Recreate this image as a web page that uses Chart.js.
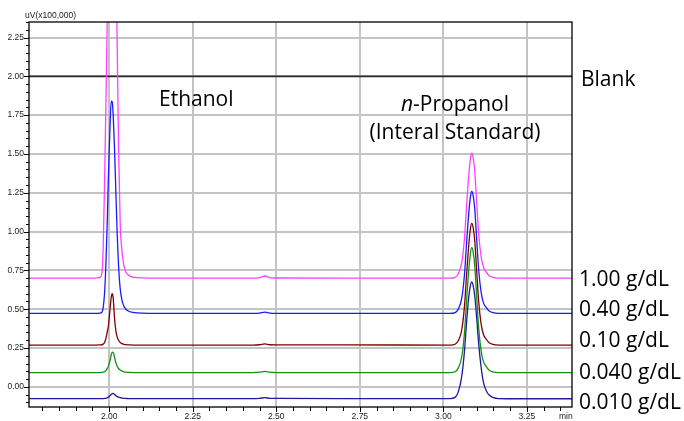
<!DOCTYPE html>
<html>
<head>
<meta charset="utf-8">
<script src="https://cdn.jsdelivr.net/npm/chart.js@4.4.1/dist/chart.umd.min.js"></script>
<style>
  body { margin: 0; background: #fff; }
  #wrap { width: 684px; height: 421px; position: relative; }
</style>
</head>
<body>
<div id="wrap"><canvas id="chart_gc"></canvas></div>
<script>
// 保持時間 (min)
const times = [
  1.76, 1.96, 1.972, 1.978, 1.982, 1.986, 1.990, 1.994, 1.998, 2.002,
  2.006, 2.009, 2.012, 2.016, 2.020, 2.024, 2.028, 2.033, 2.038, 2.044,
  2.050, 2.060, 2.075, 2.10, 2.20, 2.43, 2.45, 2.466, 2.48, 2.50,
  2.70, 3.02, 3.035, 3.045, 3.055, 3.063, 3.070, 3.076, 3.081, 3.085,
  3.089, 3.094, 3.100, 3.106, 3.113, 3.120, 3.128, 3.137, 3.148, 3.165,
  3.20, 3.385
];

// 各濃度の信号 (uV x100,000)
const conc100 = [
  0.70, 0.70, 0.705, 0.73, 0.90, 1.30, 1.80, 2.35, 2.95, 3.5,
  3.85, 3.95, 3.85, 3.4, 2.8, 2.2, 1.55, 1.05, 0.88, 0.78,
  0.74, 0.715, 0.705, 0.702, 0.70, 0.70, 0.704, 0.714, 0.704, 0.701,
  0.70, 0.70, 0.705, 0.73, 0.80, 0.95, 1.18, 1.36, 1.47, 1.505,
  1.48, 1.39, 1.18, 0.98, 0.84, 0.77, 0.74, 0.715, 0.705, 0.70,
  0.70, 0.70
];
const conc040 = [
  0.473, 0.473, 0.475, 0.48, 0.51, 0.60, 0.78, 1.05, 1.38, 1.65,
  1.84, 1.835, 1.75, 1.53, 1.25, 0.98, 0.78, 0.63, 0.56, 0.52,
  0.50, 0.485, 0.478, 0.475, 0.473, 0.473, 0.475, 0.481, 0.475, 0.473,
  0.473, 0.473, 0.478, 0.502, 0.57, 0.717, 0.941, 1.117, 1.224, 1.258,
  1.234, 1.146, 0.941, 0.746, 0.610, 0.541, 0.512, 0.488, 0.478, 0.473,
  0.473, 0.473
];
const conc010 = [
  0.269, 0.269, 0.27, 0.271, 0.275, 0.285, 0.31, 0.35, 0.40, 0.49,
  0.575, 0.60, 0.57, 0.44, 0.36, 0.32, 0.30, 0.285, 0.278, 0.274,
  0.272, 0.27, 0.269, 0.269, 0.269, 0.269, 0.271, 0.276, 0.271, 0.27,
  0.27, 0.269, 0.274, 0.298, 0.366, 0.513, 0.736, 0.912, 1.019, 1.053,
  1.029, 0.941, 0.736, 0.542, 0.405, 0.337, 0.308, 0.284, 0.274, 0.269,
  0.269, 0.269
];
const conc0040 = [
  0.092, 0.092, 0.092, 0.093, 0.094, 0.097, 0.104, 0.117, 0.135, 0.165,
  0.205, 0.224, 0.222, 0.19, 0.155, 0.133, 0.118, 0.108, 0.101, 0.097,
  0.095, 0.093, 0.092, 0.092, 0.092, 0.092, 0.094, 0.099, 0.094, 0.092,
  0.092, 0.092, 0.097, 0.122, 0.192, 0.342, 0.571, 0.751, 0.861, 0.896,
  0.871, 0.781, 0.571, 0.372, 0.232, 0.162, 0.132, 0.107, 0.097, 0.092,
  0.092, 0.092
];
const conc0010 = [
  -0.076, -0.076, -0.076, -0.076, -0.076, -0.075, -0.074, -0.071, -0.066, -0.058,
  -0.049, -0.044, -0.043, -0.049, -0.057, -0.063, -0.067, -0.07, -0.072, -0.074,
  -0.075, -0.076, -0.076, -0.076, -0.076, -0.076, -0.074, -0.070, -0.074, -0.075,
  -0.076, -0.076, -0.068, -0.031, 0.067, 0.225, 0.428, 0.578, 0.653, 0.676,
  0.653, 0.586, 0.435, 0.27, 0.127, 0.029, -0.023, -0.053, -0.068, -0.076,
  -0.077, -0.077
];
// ブランク
const blankTimes = [1.76, 3.385];
const blank = [2.00, 2.00];

const seriesLabels = ['0.010 g/dL', '0.040 g/dL', '0.10 g/dL', '0.40 g/dL', '1.00 g/dL', 'Blank'];
const seriesColors = ['#1c1c9c', '#129212', '#800000', '#1a1aff', '#ff40ff', '#2a2a2a'];
const xRange = [1.76, 3.385];
const yRange = [-0.13, 2.35];

function toPoints(xs, ys) {
  return xs.map((t, i) => ({ x: t, y: ys[i] }));
}
function isMajor(v) {
  return Math.abs(v / 0.25 - Math.round(v / 0.25)) < 1e-6;
}

const seriesData = [conc0010, conc0040, conc010, conc040, conc100];
const datasets = seriesData.map((d, i) => ({
  label: seriesLabels[i],
  data: toPoints(times, d),
  borderColor: seriesColors[i],
  borderWidth: 1.3,
  pointRadius: 0,
  cubicInterpolationMode: 'monotone'
}));
datasets.push({
  label: seriesLabels[5],
  data: toPoints(blankTimes, blank),
  borderColor: seriesColors[5],
  borderWidth: 1.6,
  pointRadius: 0
});

// 目盛・枠・注記
const decor = {
  id: 'decor',
  afterDatasetsDraw(chart) {
    const { ctx, chartArea: a, scales: { x, y } } = chart;
    ctx.save();
    ctx.strokeStyle = '#000';
    ctx.lineWidth = 1;
    ctx.beginPath();
    y.ticks.forEach(t => {
      const py = Math.round(y.getPixelForValue(t.value)) + 0.5;
      const len = isMajor(t.value) ? 5 : 3;
      ctx.moveTo(a.left - len, py);
      ctx.lineTo(a.left, py);
    });
    x.ticks.forEach(t => {
      const px = Math.round(x.getPixelForValue(t.value)) + 0.5;
      const len = isMajor(t.value) ? 5 : 4;
      ctx.moveTo(px, a.bottom);
      ctx.lineTo(px, a.bottom + len);
    });
    ctx.stroke();
    ctx.lineWidth = 1.3;
    ctx.strokeRect(a.left, a.top, a.right - a.left, a.bottom - a.top);
    ctx.restore();
  },
  afterDraw(chart) {
    const { ctx } = chart;
    ctx.save();
    ctx.fillStyle = '#222';
    ctx.textBaseline = 'middle';
    ctx.font = '8.5px "Liberation Sans"';
    ctx.fillText('uV(x100,000)', 25, 16);
    ctx.fillText('min', 559, 417);

    ctx.fillStyle = '#000';
    ctx.font = '21px "Open Sans"';
    ctx.fillText('Blank', 581, 80);
    ctx.fillText('Ethanol', 159, 100);
    const right = [['1.00 g/dL', 280], ['0.40 g/dL', 310], ['0.10 g/dL', 341], ['0.040 g/dL', 373], ['0.010 g/dL', 403]];
    right.forEach(r => ctx.fillText(r[0], 579, r[1]));

    // n-Propanol (nは斜体)
    ctx.font = 'italic 21px "Open Sans"';
    const wN = ctx.measureText('n').width;
    ctx.font = '21px "Open Sans"';
    const wRest = ctx.measureText('-Propanol').width;
    const sx = 455 - (wN + wRest) / 2;
    ctx.font = 'italic 21px "Open Sans"';
    ctx.fillText('n', sx, 105);
    ctx.font = '21px "Open Sans"';
    ctx.fillText('-Propanol', sx + wN, 105);
    ctx.textAlign = 'center';
    ctx.fillText('(Interal Standard)', 455, 133);
    ctx.restore();
  }
};

const tickFont = { family: 'Liberation Sans', size: 8.5 };

new Chart(document.getElementById('chart_gc'), {
  type: 'line',
  data: { datasets: datasets },
  options: {
    responsive: true,
    maintainAspectRatio: false,
    animation: false,
    layout: { padding: { left: 0, top: 22, right: 112, bottom: 0 } },
    plugins: { legend: { display: false }, tooltip: { enabled: false } },
    scales: {
      x: {
        type: 'linear',
        min: xRange[0],
        max: xRange[1],
        afterFit: s => { s.height = 14; },
        border: { display: false },
        grid: {
          drawTicks: false,
          lineWidth: 2,
          color: c => (c.tick && isMajor(c.tick.value)) ? '#c4c4c4' : 'rgba(0,0,0,0)'
        },
        ticks: {
          stepSize: 0.05,
          includeBounds: false,
          autoSkip: false,
          maxRotation: 0,
          minRotation: 0,
          padding: 5,
          color: '#222',
          font: tickFont,
          callback: v => isMajor(v) ? v.toFixed(2) : ''
        }
      },
      y: {
        min: yRange[0],
        max: yRange[1],
        afterFit: s => { s.width = 29; },
        border: { display: false },
        grid: {
          drawTicks: false,
          lineWidth: 2,
          color: c => (c.tick && isMajor(c.tick.value)) ? '#c4c4c4' : 'rgba(0,0,0,0)'
        },
        ticks: {
          stepSize: 0.05,
          includeBounds: false,
          autoSkip: false,
          padding: 5,
          color: '#222',
          font: tickFont,
          callback: v => isMajor(v) ? v.toFixed(2) : ''
        }
      }
    }
  },
  plugins: [decor]
});
</script>
</body>
</html>
